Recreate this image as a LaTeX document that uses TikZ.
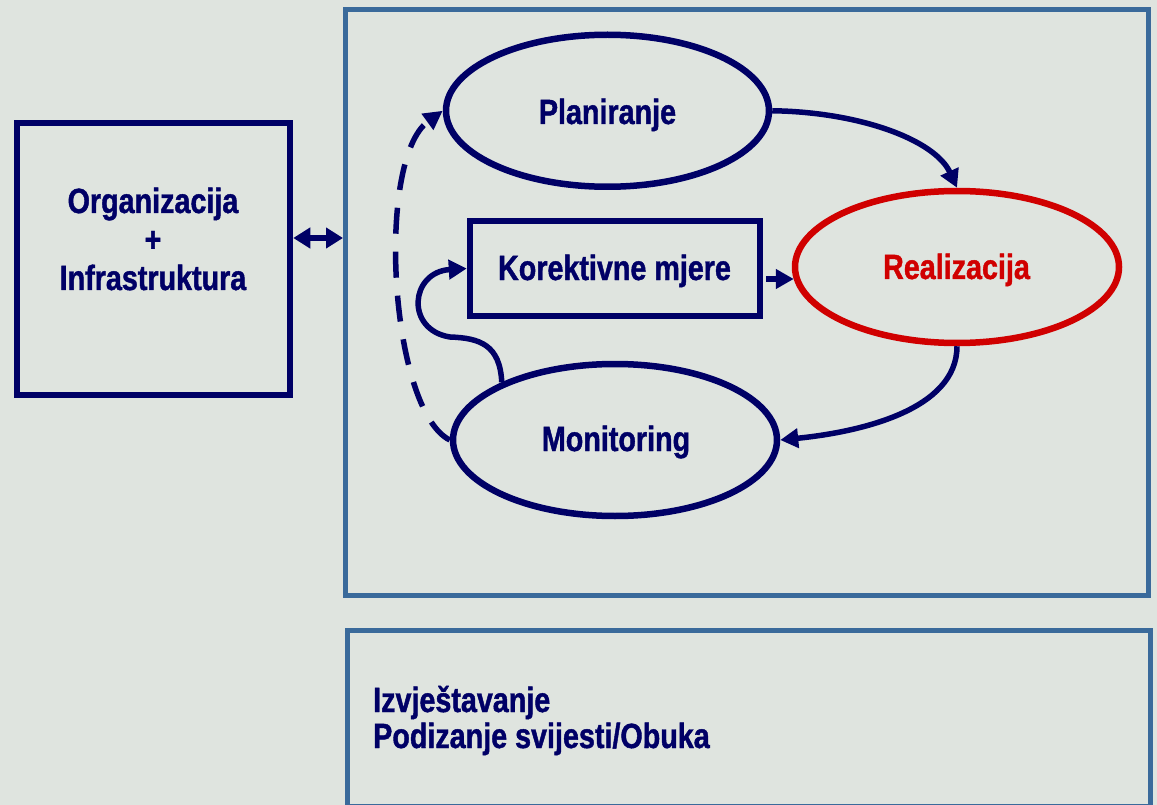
\documentclass[tikz,border=0pt]{standalone}
\usepackage{fontspec}
\setmainfont{Liberation Sans}[FakeStretch=0.82,BoldFeatures={FakeBold=1.2}]
\usetikzlibrary{shapes.geometric,arrows.meta}
\definecolor{navy}{HTML}{000066}
\definecolor{steel}{HTML}{3A6A9B}
\definecolor{realred}{HTML}{D00000}
\definecolor{bgc}{HTML}{DFE4DF}
\tikzset{
  navybox/.style={draw=navy,line width=6.5pt,rectangle,inner sep=0pt},
  steelbox/.style={draw=steel,line width=5pt,rectangle,inner sep=0pt},
  oval/.style={draw=navy,line width=6.5pt,ellipse,inner sep=0pt,minimum width=324pt,minimum height=152pt},
  lbl/.style={inner sep=0pt,anchor=base,text=navy,font=\fontsize{35}{38}\selectfont\bfseries},
  conn/.style={draw=navy,line width=5.5pt},
  tip/.style={-{Triangle[length=18pt,width=19pt]}},
}
\begin{document}
\begin{tikzpicture}[x=1pt,y=-1pt]
\fill[bgc] (0,0) rectangle (1157,805);
\useasboundingbox (0,0) rectangle (1157,805);
% boxes
\node[steelbox,minimum width=803pt,minimum height=585pt] (main) at (747,302.5) {};
\node[steelbox,minimum width=803pt,minimum height=175.5pt] (rep) at (749,718.25) {};
\node[navybox,minimum width=273pt,minimum height=272pt] (org) at (153.5,259) {};
% ellipses and box
\node[oval,minimum width=323pt] (pl) at (607.5,110.75) {};
\node[oval,draw=realred] (re) at (957,267) {};
\node[oval] (mo) at (615,440) {};
\node[navybox,minimum width=290pt,minimum height=95pt] (ko) at (615,268.5) {};
% connectors
\draw[conn,{Triangle[length=17pt,width=20pt]}-{Triangle[length=17pt,width=20pt]}] (org.east |- 0,238) -- (main.west |- 0,238);
\draw[conn,tip] (pl.east) .. controls (860,112) and (935,140) .. (re.north);
\draw[conn,tip] (re.south) .. controls (957,410) and (860,432) .. (mo.east);
\draw[conn,tip,shorten <=3pt,shorten >=-2pt] (ko.east |- 0,279) -- (re.west |- 0,279);
\draw[conn,-{Triangle[length=19pt,width=19pt]},dash pattern=on 26pt off 18pt] (mo.west) .. controls (390,410) and (375,160) .. (pl.west);
\draw[conn,-{Triangle[length=18pt,width=19pt]}] (mo.153) .. controls (500,345) and (480,338) .. (450,337) .. controls (405,330) and (410,272) .. (ko.west);
% texts
\node[lbl] (tpl) at (607.5,124) {Planiranje};
\node[lbl] (tko) at (614.5,280) {Korektivne mjere};
\node[lbl,text=realred] (tre) at (956.5,279) {Realizacija};
\node[lbl] (tmo) at (616,451) {Monitoring};
\node[lbl] (torg1) at (153,213) {Organizacija};
\node[lbl] (torg2) at (153,251.5) {+};
\node[lbl] (torg3) at (153,290) {Infrastruktura};
\node[lbl,anchor=base west] (trep1) at (373,712) {Izvještavanje};
\node[lbl,anchor=base west] (trep2) at (373,748) {Podizanje svijesti/Obuka};
\end{tikzpicture}
\end{document}
